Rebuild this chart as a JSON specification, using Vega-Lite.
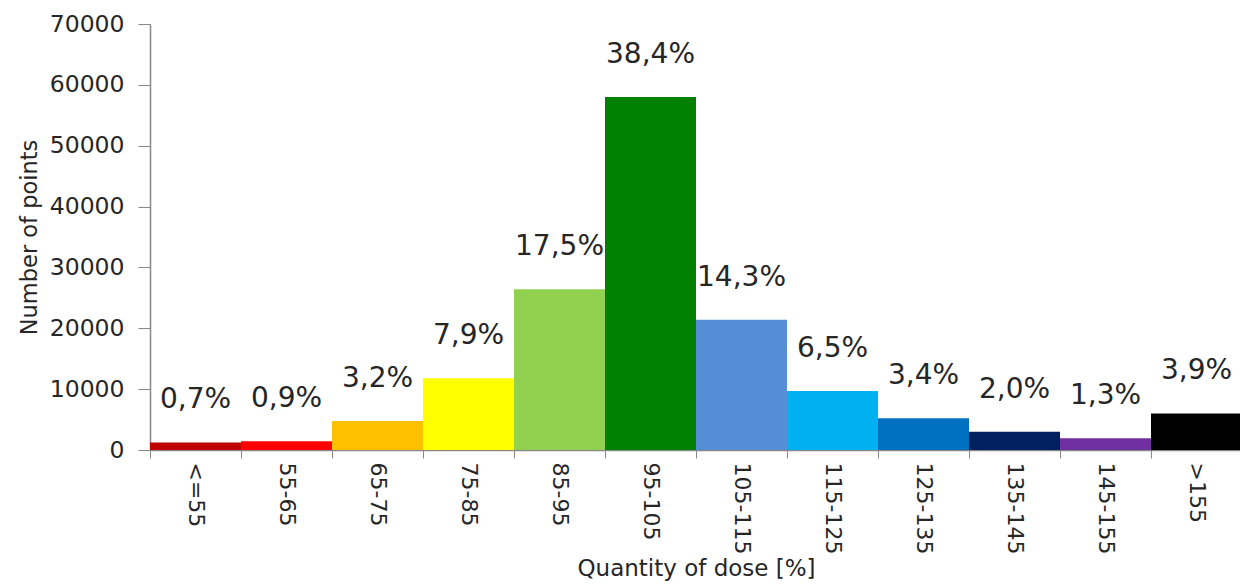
{
  "$schema": "https://vega.github.io/schema/vega-lite/v6.json",
  "autosize": "none",
  "width": 1092,
  "height": 426,
  "padding": {"left": 150, "top": 24, "right": 0, "bottom": 135},
  "background": "white",
  "config": {
    "view": {"stroke": null},
    "font": "DejaVu Sans"
  },
  "data": {
    "values": [
      {"range": "<=55", "points": 1250, "pct": "0,7%"},
      {"range": "55-65", "points": 1450, "pct": "0,9%"},
      {"range": "65-75", "points": 4750, "pct": "3,2%"},
      {"range": "75-85", "points": 11800, "pct": "7,9%"},
      {"range": "85-95", "points": 26400, "pct": "17,5%"},
      {"range": "95-105", "points": 58000, "pct": "38,4%"},
      {"range": "105-115", "points": 21400, "pct": "14,3%"},
      {"range": "115-125", "points": 9700, "pct": "6,5%"},
      {"range": "125-135", "points": 5200, "pct": "3,4%"},
      {"range": "135-145", "points": 3000, "pct": "2,0%"},
      {"range": "145-155", "points": 1950, "pct": "1,3%"},
      {"range": ">155", "points": 6000, "pct": "3,9%"}
    ]
  },
  "encoding": {
    "x": {
      "field": "range",
      "type": "nominal",
      "sort": null,
      "scale": {"paddingInner": 0, "paddingOuter": 0},
      "axis": {
        "title": "Quantity of dose [%]",
        "titleFont": "DejaVu Sans",
        "titleFontSize": 23,
        "titleFontWeight": "normal",
        "titleColor": "#262626",
        "titlePadding": 4,
        "labelAngle": 90,
        "labelFont": "DejaVu Sans",
        "labelFontSize": 22,
        "labelColor": "#262626",
        "labelPadding": 4,
        "labelAlign": "left",
        "labelBaseline": "middle",
        "tickOffset": -45.5,
        "labelOffset": 45.5,
        "tickSize": 8,
        "tickColor": "#888888",
        "domainColor": "#888888",
        "domainWidth": 1.5
      }
    },
    "y": {
      "field": "points",
      "type": "quantitative",
      "scale": {"domain": [0, 70000]},
      "axis": {
        "title": "Number of points",
        "titleFont": "DejaVu Sans",
        "titleFontSize": 22.5,
        "titleFontWeight": "normal",
        "titleColor": "#262626",
        "titlePadding": 8,
        "values": [0, 10000, 20000, 30000, 40000, 50000, 60000, 70000],
        "format": "d",
        "labelFont": "DejaVu Sans",
        "labelFontSize": 23.5,
        "labelColor": "#262626",
        "labelPadding": 14,
        "tickSize": 12,
        "tickColor": "#888888",
        "domainColor": "#888888",
        "domainWidth": 1.5,
        "grid": false
      }
    }
  },
  "layer": [
    {
      "mark": {"type": "bar"},
      "encoding": {
        "color": {
          "field": "range",
          "type": "nominal",
          "sort": null,
          "legend": null,
          "scale": {
            "domain": ["<=55", "55-65", "65-75", "75-85", "85-95", "95-105", "105-115", "115-125", "125-135", "135-145", "145-155", ">155"],
            "range": ["#C00000", "#FF0000", "#FFC000", "#FFFF00", "#92D050", "#008000", "#558ED5", "#00B0F0", "#0070C0", "#002060", "#7030A0", "#000000"]
          }
        }
      }
    },
    {
      "mark": {"type": "text", "dy": -42, "fontSize": 28, "font": "DejaVu Sans", "color": "#262626", "baseline": "middle"},
      "encoding": {"text": {"field": "pct"}}
    }
  ]
}
